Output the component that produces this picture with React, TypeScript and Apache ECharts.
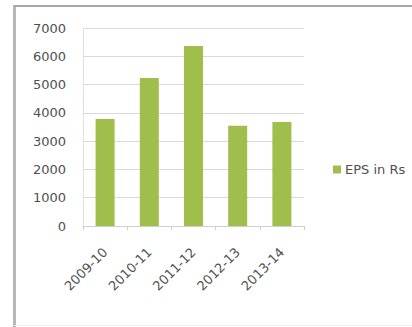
import React, { useEffect, useRef } from "react";
import * as echarts from "echarts";

const categories = ["2009-10", "2010-11", "2011-12", "2012-13", "2013-14"];
const epsValues = [3780, 5230, 6360, 3540, 3680];
const seriesName = "EPS in Rs";

export default function App() {
  const ref = useRef<HTMLDivElement>(null);
  useEffect(() => {
    const chart = echarts.init(ref.current!, null, { renderer: "svg" });
    const font = "DejaVu Sans";
    chart.setOption({
      animation: false,
      backgroundColor: "#ffffff",
      grid: { left: 83, right: 108, top: 28, bottom: 101, containLabel: false },
      legend: {
        data: [seriesName],
        left: 328,
        top: 158,
        icon: "rect",
        itemWidth: 8,
        itemHeight: 8,
        itemGap: 4,
        textStyle: { fontFamily: font, fontSize: 13, color: "#505050", padding: [0, 0, 0, -1] },
      },
      xAxis: {
        type: "category",
        data: categories,
        axisLine: { show: true, lineStyle: { color: "#cfcfcf", width: 1 } },
        axisTick: { show: true, length: 4, lineStyle: { color: "#cfcfcf" } },
        axisLabel: {
          rotate: 45,
          margin: 24,
          interval: 0,
          fontFamily: font,
          fontSize: 13,
          color: "#505050",
        },
      },
      yAxis: {
        type: "value",
        min: 0,
        max: 7000,
        interval: 1000,
        axisLine: { show: true, lineStyle: { color: "#e0e0e0" } },
        axisTick: { show: false },
        splitLine: { lineStyle: { color: "#d9d9d9", width: 1 } },
        axisLabel: {
          margin: 17,
          fontFamily: font,
          fontSize: 13,
          color: "#505050",
          formatter: (v: number) => String(v),
        },
      },
      series: [
        {
          name: seriesName,
          type: "bar",
          data: epsValues,
          barWidth: "43%",
          itemStyle: { color: "#a0be4c" },
        },
      ],
      graphic: [
        { type: "line", shape: { x1: 14.5, y1: 5, x2: 14.5, y2: 327 }, style: { stroke: "#b8b8b8", lineWidth: 3 } },
        { type: "line", shape: { x1: 14, y1: 6, x2: 412, y2: 6 }, style: { stroke: "#a8a8a8", lineWidth: 2 } },
        { type: "line", shape: { x1: 14, y1: 325.5, x2: 412, y2: 325.5 }, style: { stroke: "#eeeeee", lineWidth: 1 } },
      ],
    });
    return () => chart.dispose();
  }, []);
  return (
    <div
      ref={ref}
      style={{ position: "fixed", left: 0, top: 0, width: 412, height: 327 }}
    />
  );
}
